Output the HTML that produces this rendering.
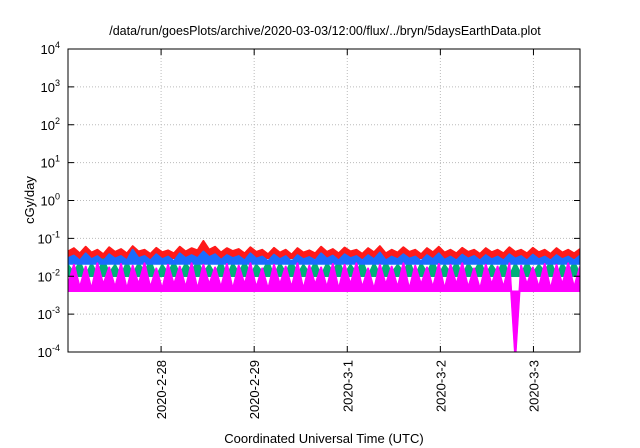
<!DOCTYPE html>
<html><head><meta charset="utf-8"><style>
body{margin:0;background:#fff;}
svg{display:block;font-family:"Liberation Sans",sans-serif;}
</style></head><body>
<svg id="chart" width="640" height="448">
<defs><clipPath id="pc"><rect x="68" y="49" width="512" height="303"/></clipPath></defs>
<text x="325" y="35" text-anchor="middle" font-size="12.5">/data/run/goesPlots/archive/2020-03-03/12:00/flux/../bryn/5daysEarthData.plot</text>
<g id="grid"></g>
<g id="series" clip-path="url(#pc)"></g>
<rect x="68" y="49" width="512" height="303" fill="none" stroke="#000" stroke-width="1"/>
<g id="yaxis"></g>
<g id="xaxis"></g>
<text x="0" y="0" transform="translate(34,200) rotate(-90)" text-anchor="middle" font-size="13">cGy/day</text>
<text x="324" y="443" text-anchor="middle" font-size="13">Coordinated Universal Time (UTC)</text>
</svg>
<script>
const yTickExps=[-4,-3,-2,-1,0,1,2,3,4];
const xTickLabels=["2020-2-28","2020-2-29","2020-3-1","2020-3-2","2020-3-3"];
const xTickDays=[1,2,3,4,5];
const redVals=[0.045,0.055,0.04,0.06,0.042,0.05,0.038,0.058,0.044,0.052,0.04,0.062,0.045,0.05,0.039,0.056,0.043,0.048,0.04,0.06,0.045,0.055,0.048,0.085,0.05,0.06,0.042,0.055,0.046,0.052,0.04,0.058,0.044,0.05,0.038,0.056,0.042,0.05,0.037,0.055,0.042,0.048,0.04,0.06,0.044,0.052,0.04,0.057,0.045,0.05,0.039,0.055,0.043,0.062,0.04,0.05,0.042,0.058,0.044,0.05,0.038,0.055,0.043,0.06,0.042,0.05,0.04,0.056,0.044,0.05,0.039,0.055,0.043,0.05,0.04,0.058,0.044,0.05,0.04,0.056,0.043,0.05,0.039,0.055,0.042,0.05,0.04,0.052];
const blueVals=[0.03,0.035,0.026,0.04,0.028,0.034,0.025,0.038,0.029,0.034,0.026,0.05,0.03,0.034,0.026,0.038,0.028,0.033,0.025,0.04,0.03,0.036,0.03,0.045,0.032,0.038,0.027,0.036,0.03,0.034,0.026,0.04,0.029,0.033,0.025,0.037,0.028,0.034,0.024,0.036,0.028,0.032,0.026,0.04,0.029,0.035,0.026,0.038,0.03,0.034,0.026,0.036,0.028,0.042,0.026,0.033,0.028,0.038,0.029,0.033,0.025,0.036,0.028,0.04,0.027,0.033,0.026,0.037,0.029,0.034,0.026,0.036,0.028,0.033,0.026,0.038,0.029,0.034,0.026,0.037,0.028,0.033,0.026,0.036,0.028,0.033,0.026,0.035];
const greenVals=[0.02,0.012,0.025,0.01,0.022,0.011,0.028,0.012,0.02,0.01,0.024,0.011,0.022,0.013,0.026,0.01,0.02,0.012,0.024,0.011,0.022,0.013,0.025,0.012,0.02,0.011,0.026,0.01,0.022,0.012,0.024,0.011,0.02,0.013,0.025,0.01,0.022,0.012,0.026,0.011,0.02,0.012,0.024,0.01,0.022,0.013,0.025,0.011,0.02,0.012,0.026,0.01,0.022,0.011,0.024,0.012,0.02,0.013,0.025,0.01,0.022,0.012,0.026,0.011,0.02,0.012,0.024,0.01,0.022,0.013,0.025,0.011,0.02,0.012,0.026,0.01,0.022,0.011,0.024,0.012,0.02,0.013,0.025,0.01,0.022,0.012,0.024,0.011];
const magentaVals=[0.006,0.02,0.005,0.018,0.0045,0.022,0.006,0.017,0.005,0.021,0.0045,0.019,0.006,0.022,0.005,0.016,0.0045,0.02,0.006,0.018,0.005,0.022,0.0045,0.02,0.006,0.017,0.005,0.021,0.0045,0.019,0.006,0.022,0.005,0.016,0.0045,0.02,0.006,0.018,0.005,0.022,0.0045,0.019,0.006,0.017,0.005,0.021,0.0045,0.02,0.006,0.022,0.005,0.016,0.0045,0.02,0.006,0.018,0.005,0.022,0.0045,0.019,0.006,0.017,0.005,0.021,0.0045,0.02,0.006,0.022,0.005,0.016,0.0045,0.02,0.006,0.018,0.005,0.022,0.00005,0.019,0.006,0.017,0.005,0.021,0.0045,0.02,0.006,0.022,0.005,0.018];
const seriesFloors=[0.03,0.01,0.021,0.004];
const seriesList=[["red-series","#ff1a1a",redVals],["green-series","#00b07a",greenVals],["blue-series","#1a6cff",blueVals],["magenta-series","#ff00ff",magentaVals]];
const L=68,R=580,T=49,B=352,totalDays=5.5;
const NS="http://www.w3.org/2000/svg";
function yScale(v){const e=Math.log10(Math.max(v,1e-5));return B-(e+4)/8*(B-T);}
function xScale(d){return L+d/totalDays*(R-L);}
function mk(tag,attrs,parent){const el=document.createElementNS(NS,tag);for(const k in attrs)el.setAttribute(k,attrs[k]);parent.appendChild(el);return el;}
const grid=document.getElementById('grid'),ya=document.getElementById('yaxis'),xa=document.getElementById('xaxis'),sg=document.getElementById('series');
yTickExps.forEach(e=>{const y=yScale(Math.pow(10,e));
 if(e>-4&&e<4){const g=mk('line',{x1:L,x2:R,y1:y,y2:y,stroke:'#bbb','stroke-dasharray':'1,2'},grid);}
 const t1=mk('line',{x1:L,x2:L+6,y1:y,y2:y,stroke:'#000'},ya);
 const t2=mk('line',{x1:R-6,x2:R,y1:y,y2:y,stroke:'#000'},ya);
 const tx=mk('text',{x:L-8,y:y+5,'text-anchor':'end','font-size':'13'},ya);
 tx.textContent='10';const sp=mk('tspan',{dy:'-6','font-size':'9'},tx);sp.textContent=String(e);});
xTickDays.forEach((d,i)=>{const x=xScale(d);
 const g=mk('line',{x1:x,x2:x,y1:T,y2:B,stroke:'#bbb','stroke-dasharray':'1,2'},grid);
 const t=mk('line',{x1:x,x2:x,y1:B-6,y2:B,stroke:'#000'},xa);
 const t2=mk('line',{x1:x,x2:x,y1:T,y2:T+6,stroke:'#000'},xa);
 const tx=mk('text',{x:0,y:0,transform:`translate(${x+5},${B+8}) rotate(-90)`,'text-anchor':'end','font-size':'13'},xa);tx.textContent=xTickLabels[i];});
seriesList.forEach(([name,color,vals],si)=>{
 const n=vals.length;
 const xs=vals.map((v,i)=>xScale(i/(n-1)*totalDays));
 const top=vals.map((v,i)=>xs[i].toFixed(1)+','+Math.min(yScale(v),B+5).toFixed(1));
 const fy=yScale(seriesFloors[si]).toFixed(1);
 const poly=top.concat([xs[n-1].toFixed(1)+','+fy,xs[0].toFixed(1)+','+fy]).join(' ');
 const band=mk('polygon',{points:poly,fill:color,stroke:color,'stroke-width':'1.5','stroke-linejoin':'round'},sg);
 
 
 const p=mk('polyline',{points:top.join(' '),fill:'none',stroke:color,'stroke-width':'2','stroke-linejoin':'round'},sg);
 
 });
</script>
</body></html>
